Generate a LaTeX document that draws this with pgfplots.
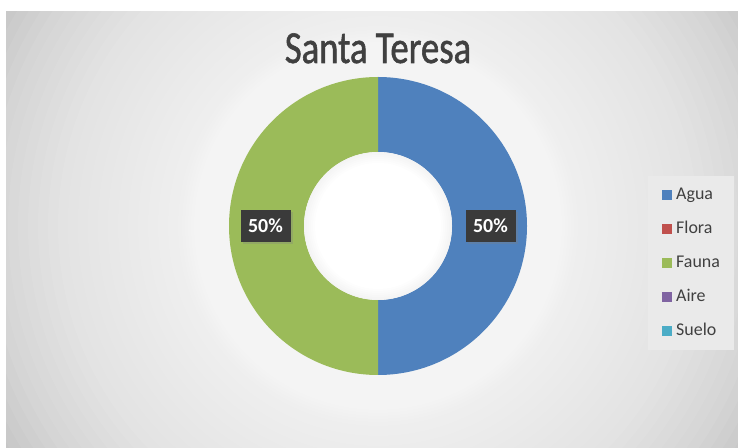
\documentclass[border=0pt]{standalone}
\usepackage{fontspec}
\setmainfont{Carlito}
\newfontfamily\titlefont[FakeStretch=0.8,FakeBold=1.2]{Carlito}
\usepackage{pgfplots}
\pgfplotsset{compat=1.18}
\usepackage{pgfplotstable}
\usetikzlibrary{shadows}

\definecolor{slice0}{HTML}{4F81BD}
\definecolor{slice1}{HTML}{C0504D}
\definecolor{slice2}{HTML}{9BBB59}
\definecolor{slice3}{HTML}{8064A2}
\definecolor{slice4}{HTML}{4BACC6}
\definecolor{bg3}{HTML}{C6C6C6}
\definecolor{legbg}{HTML}{EAEAEA}
\definecolor{legtext}{HTML}{404040}
\definecolor{titlec}{HTML}{404040}
\definecolor{lblbg}{HTML}{3A3A3A}

\pgfplotstableread{
name value
Agua 50
Flora 0
Fauna 50
Aire 0
Suelo 0
}\piedata

\def\cx{378}
\def\cy{222}

\begin{document}
\begin{tikzpicture}
\pgfmathsetmacro\total{0}
\pgfplotsforeachungrouped \i in {0,...,4}{%
  \pgfplotstablegetelem{\i}{value}\of\piedata
  \pgfmathsetmacro\total{\total+\pgfplotsretval}}
\pgfmathsetmacro\cum{0}
\pgfplotsforeachungrouped \i in {0,...,4}{%
  \pgfplotstablegetelem{\i}{value}\of\piedata
  \let\sv\pgfplotsretval
  \pgfmathsetmacro\sa{90-360*(\cum/\total)}
  \pgfmathsetmacro\cum{\cum+\sv}
  \pgfmathsetmacro\ea{90-360*(\cum/\total)}
  \pgfmathtruncatemacro\pcr{round(100*(\sv/\total))}
  \expandafter\xdef\csname sliceS\i\endcsname{\sa}
  \expandafter\xdef\csname sliceE\i\endcsname{\ea}
  \expandafter\xdef\csname sliceV\i\endcsname{\sv}
  \expandafter\xdef\csname sliceP\i\endcsname{\pcr}
}
\begin{axis}[
  width=738bp, height=448bp, scale only axis,
  xmin=0, xmax=738, ymin=0, ymax=448,
  hide axis,
  legend image code/.code={\fill[#1,draw=none] (0bp,-5bp) rectangle (10bp,5bp);},
  legend cell align=left,
  legend style={at={(0.878,0.607)}, anchor=north west, draw=none, fill=legbg,
    font=\fontsize{18}{20}\selectfont, inner xsep=14bp, inner ysep=11bp,
    row sep=18bp,
    nodes={inner sep=0pt, text height=12bp, text depth=4bp, text=legtext},
    /tikz/every odd column/.append style={column sep=4bp}},
]
\pgfplotsextra{
  \fill[white] (axis cs:0,0) rectangle (axis cs:738,448);
  \begin{scope}
    \clip (axis cs:6,0) rectangle (axis cs:738,437);
    \fill[bg3] (axis cs:6,0) rectangle (axis cs:738,437);
    \foreach \r in {430,420,...,200} {\fill[white,opacity=0.065] (axis cs:\cx,\cy) circle[radius=\r bp];}
  \end{scope}
  \foreach \r in {196,193,...,151} {\fill[white,opacity=0.09] (axis cs:\cx,\cy) circle[radius=\r bp];}
  \foreach \i in {0,...,4}{
    \edef\sv{\csname sliceV\i\endcsname}
    \ifdim\sv pt>0pt
      \edef\sa{\csname sliceS\i\endcsname}
      \edef\ea{\csname sliceE\i\endcsname}
      \fill[slice\i] ([shift={(\sa:149bp)}]axis cs:\cx,\cy) arc[start angle=\sa,end angle=\ea,radius=149bp]
        -- ([shift={(\ea:74bp)}]axis cs:\cx,\cy) arc[start angle=\ea,end angle=\sa,radius=74bp] -- cycle;
    \fi
  }
  \fill[white] (axis cs:\cx,\cy) circle[radius=74bp];
  \foreach \r in {73,71,...,63} {\fill[black,opacity=0.008,even odd rule] (axis cs:\cx,\cy) circle[radius=74bp] (axis cs:\cx,\cy) circle[radius=\r bp];}
  \foreach \i in {0,...,4}{
    \edef\sv{\csname sliceV\i\endcsname}
    \ifdim\sv pt>0pt
      \edef\sa{\csname sliceS\i\endcsname}
      \edef\ea{\csname sliceE\i\endcsname}
      \pgfmathsetmacro\ma{(\sa+\ea)/2}
      \node[fill=lblbg, text=white, font=\bfseries\fontsize{20}{22}\selectfont,
        minimum width=50bp, minimum height=32bp, inner sep=0pt,
        drop shadow={shadow xshift=2bp, shadow yshift=-2bp, opacity=0.3}]
        at ([shift={(\ma:112.5bp)}]axis cs:\cx,\cy) {\csname sliceP\i\endcsname\%};
    \fi
  }
  \node[font=\titlefont\fontsize{46}{50}\selectfont, text=titlec, anchor=base] at (axis cs:378,385) {Santa Teresa};
}
\addlegendimage{fill=slice0}\addlegendentry{Agua}
\addlegendimage{fill=slice1}\addlegendentry{Flora}
\addlegendimage{fill=slice2}\addlegendentry{Fauna}
\addlegendimage{fill=slice3}\addlegendentry{Aire}
\addlegendimage{fill=slice4}\addlegendentry{Suelo}
\end{axis}
\end{tikzpicture}
\end{document}
